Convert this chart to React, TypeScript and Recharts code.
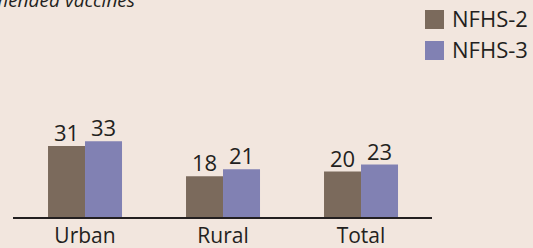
import React from 'react';
import { BarChart, Bar, XAxis, YAxis, LabelList } from 'recharts';

const categories = ['Urban', 'Rural', 'Total'];
const nfhs2 = [31, 18, 20];
const nfhs3 = [33, 21, 23];
const seriesNames = ['NFHS-2', 'NFHS-3'];

const BG = '#F2E6DE';
const BROWN = '#7B6A5C';
const BLUE = '#8181B3';
const INK = '#231F20';
const FONT = '"Open Sans", "Noto Sans", sans-serif';

const data = categories.map((name, i) => ({
  name,
  nfhs2: nfhs2[i],
  nfhs3: nfhs3[i],
}));

const App: React.FC = () => {
  return (
    <div
      style={{
        position: 'relative',
        width: 533,
        height: 248,
        background: BG,
        overflow: 'hidden',
        fontFamily: FONT,
      }}
    >
      <style>{'body{margin:0}'}</style>
      <svg
        width={533}
        height={20}
        style={{ position: 'absolute', left: 0, top: 0 }}
      >
        {/* title is cropped at the top-left edge in the source figure */}
        <text
          x={135}
          y={7}
          textAnchor="end"
          fontStyle="italic"
          fontSize={19}
          fontFamily={FONT}
          fill={INK}
        >
          received all recommended vaccines
        </text>
      </svg>
      <BarChart
        width={533}
        height={248}
        data={data}
        margin={{ top: 125, right: 101, bottom: 0, left: 13 }}
        barCategoryGap="23.2%"
        barGap={0}
      >
        <XAxis
          dataKey="name"
          height={30}
          padding={{ left: 3, right: 2 }}
          tickLine={false}
          axisLine={{ stroke: INK, strokeWidth: 2 }}
          tick={{ fill: INK, fontSize: 21, fontFamily: FONT }}
          tickMargin={4}
          interval={0}
        />
        <YAxis hide domain={[0, 40]} />
        <Bar dataKey="nfhs2" fill={BROWN} isAnimationActive={false}>
          <LabelList
            dataKey="nfhs2"
            position="top"
            offset={5}
            fill={INK}
            fontSize={22}
            fontFamily={FONT}
          />
        </Bar>
        <Bar dataKey="nfhs3" fill={BLUE} isAnimationActive={false}>
          <LabelList
            dataKey="nfhs3"
            position="top"
            offset={5}
            fill={INK}
            fontSize={22}
            fontFamily={FONT}
          />
        </Bar>
      </BarChart>
      <div style={{ position: 'absolute', left: 425, top: 3, color: INK }}>
        {seriesNames.map((s, i) => (
          <div
            key={s}
            style={{
              display: 'flex',
              alignItems: 'center',
              height: 31,
              fontSize: 22,
              lineHeight: '31px',
            }}
          >
            <span
              style={{
                display: 'inline-block',
                width: 19,
                height: 19,
                background: i === 0 ? BROWN : BLUE,
                marginRight: 8,
                marginTop: 2,
              }}
            />
            {s}
          </div>
        ))}
      </div>
    </div>
  );
};

export default App;
